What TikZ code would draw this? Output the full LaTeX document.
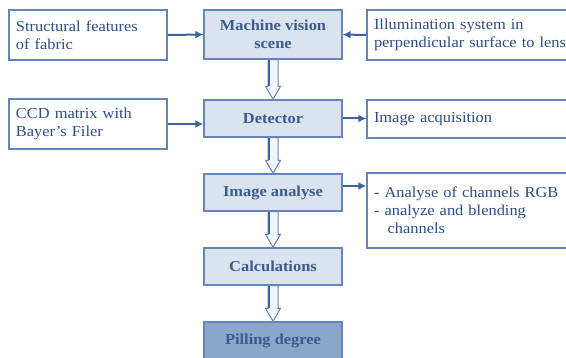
\documentclass[tikz,border=0pt]{standalone}
\usepackage{fontspec}
\setmainfont{Liberation Serif}[FakeStretch=1.08]
\usetikzlibrary{arrows.meta,calc}

\definecolor{boxline}{HTML}{6585B9}
\definecolor{linkblue}{HTML}{3D62A0}
\definecolor{txtblue}{HTML}{2E4E85}
\definecolor{headblue}{HTML}{3A5B90}
\definecolor{stepfill}{HTML}{DBE3EE}
\definecolor{finalfill}{HTML}{8CA6C9}
\definecolor{shaftfill}{HTML}{F2F5FA}

\tikzset{
  sidebox/.style={draw=boxline, line width=1.3pt, fill=white, inner xsep=7pt, inner ysep=0pt,
    align=left, text=txtblue, font=\fontsize{15.2}{18}\selectfont},
  stagebox/.style={draw=boxline, line width=1.3pt, fill=stepfill, inner sep=0pt,
    minimum width=138pt, align=center, text=headblue, font=\fontsize{15.2}{18}\selectfont\bfseries},
  conn/.style={draw=linkblue, line width=2pt, -{Latex[length=8pt,width=8pt]}},
}

% hollow block arrow between two stacked stages
\newcommand\fatarrow[2]{%
  \path let \p1=(#1.south), \p2=(#2.north) in
    [fill=shaftfill, draw=boxline, line width=1pt, line join=miter]
    (\x1-5pt,\y1) -- (\x1-5pt,\y2+13pt) -- (\x1-7.5pt,\y2+13pt) -- (\x1,\y2)
    -- (\x1+7.5pt,\y2+13pt) -- (\x1+5pt,\y2+13pt) -- (\x1+5pt,\y1) -- cycle;
  \path let \p1=(#1.south), \p2=(#2.north) in
    [draw=linkblue, line width=2pt] (\x1-4.2pt,\y1) -- (\x1-4.2pt,\y2+13pt);
}

\begin{document}
\begin{tikzpicture}[x=1pt,y=-1pt]
\useasboundingbox (0,0) rectangle (566,358);
\clip (0,0) rectangle (566,358);

% input boxes on the left
\node[sidebox, text width=144pt, minimum height=50pt] (struct) at (88,35)
  {Structural features\\of fabric};
\node[sidebox, text width=144pt, minimum height=50pt] (ccd) at (88,124)
  {CCD matrix with\\Bayer’s Filer};

% processing chain
\node[stagebox, minimum height=49pt] (scene) at (273,34.5) {Machine vision\\scene};
\node[stagebox, minimum height=37pt] (det) at (273,118.5) {Detector};
\node[stagebox, minimum height=37pt] (ana) at (273,192.5) {Image analyse};
\node[stagebox, minimum height=37pt] (calc) at (273,266.5) {Calculations};
\node[stagebox, minimum height=38pt, fill=finalfill] (pill) at (273,341) {Pilling degree};

% boxes on the right
\node[sidebox, text width=216pt, minimum height=50pt] (illum) at (482,35)
  {Illumination system in\\perpendicular surface to lens};
\node[sidebox, text width=216pt, minimum height=38pt] (acq) at (482,119)
  {Image acquisition};
\node[sidebox, text width=216pt, minimum height=75pt] (rgb) at (482,210.5)
  {- Analyse of channels RGB\\- analyze and blending\\\hspace*{0.9em}channels};

% connectors
\draw[conn] (struct.east) -- (scene.west);
\draw[conn] (illum.west) -- (scene.east);
\draw[conn] (ccd.east) -- (ccd.east -| det.west);
\draw[conn] (det.east) -- (det.east -| acq.west);
\draw[conn] ([yshift=6.5pt]ana.east) coordinate (anaout) -- (anaout -| rgb.west);

\fatarrow{scene}{det}
\fatarrow{det}{ana}
\fatarrow{ana}{calc}
\fatarrow{calc}{pill}
\end{tikzpicture}
\end{document}
